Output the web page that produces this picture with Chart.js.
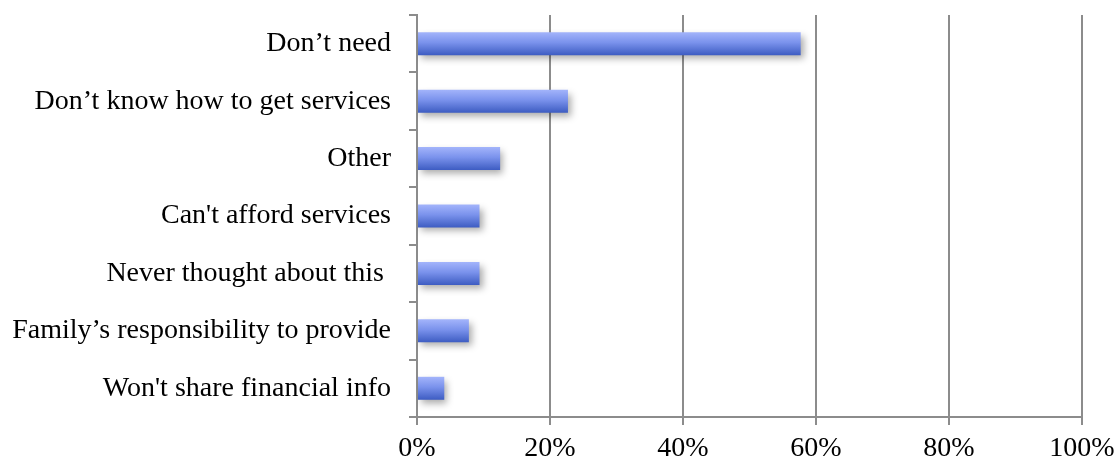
<!DOCTYPE html>
<html lang="en">
<head>
  <meta charset="UTF-8">
  <title>Reasons for not using services</title>
  <script src="https://cdn.jsdelivr.net/npm/chart.js"></script>
  <style>
    html, body { margin: 0; padding: 0; background: #ffffff; }
    #wrap { width: 1119px; height: 462px; }
  </style>
</head>
<body>
  <div id="wrap"><canvas id="reasonsChart"></canvas></div>

  <script>
    // Survey answers, top to bottom
    const categories = [
      "Don\u2019t need",
      "Don\u2019t know how to get services",
      "Other",
      "Can't afford services",
      "Never thought about this ",
      "Family\u2019s responsibility to provide",
      "Won't share financial info"
    ];
    // Share of respondents (%)
    const shares = [57.7, 22.7, 12.5, 9.4, 9.4, 7.8, 4.1];
    // Percent axis
    const axisMin = 0;
    const axisMax = 100;
    const axisStep = 20;

    const axisGray = '#8c8c8c';
    const labelFont = { family: "'Liberation Serif', 'Times New Roman', serif", size: 28 };
    const BAR_PCT = 0.4;

    // Vertical gradient for each bar, light on top and darker at the bottom
    function barGradient(context) {
      const chart = context.chart;
      const { ctx, chartArea, scales } = chart;
      if (!chartArea || !scales.y) return '#6f88e8';
      const yc = scales.y.getPixelForValue(context.dataIndex);
      const half = (chartArea.height / categories.length) * BAR_PCT / 2;
      const g = ctx.createLinearGradient(0, yc - half, 0, yc + half);
      g.addColorStop(0, '#a3b4fb');
      g.addColorStop(0.45, '#7a92ec');
      g.addColorStop(1, '#3d5cc2');
      return g;
    }

    // Soft drop shadow under the bars
    const barShadow = {
      id: 'barShadow',
      beforeDatasetsDraw(chart) {
        const ctx = chart.ctx;
        ctx.save();
        ctx.shadowColor = 'rgba(0, 0, 0, 0.33)';
        ctx.shadowBlur = 7;
        ctx.shadowOffsetX = 3;
        ctx.shadowOffsetY = 4;
      },
      afterDatasetsDraw(chart) {
        chart.ctx.restore();
      }
    };

    new Chart(document.getElementById('reasonsChart'), {
      type: 'bar',
      data: {
        labels: categories,
        datasets: [{
          data: shares,
          backgroundColor: barGradient,
          borderWidth: 0,
          barPercentage: BAR_PCT,
          categoryPercentage: 1
        }]
      },
      options: {
        indexAxis: 'y',
        responsive: true,
        maintainAspectRatio: false,
        animation: false,
        layout: { padding: { top: 15, right: 37, left: 0, bottom: 0 } },
        plugins: {
          legend: { display: false },
          tooltip: { enabled: false }
        },
        scales: {
          x: {
            min: axisMin,
            max: axisMax,
            grid: {
              color: axisGray,
              lineWidth: 2,
              tickLength: 8
            },
            border: { color: axisGray, width: 2 },
            ticks: {
              stepSize: axisStep,
              padding: 7,
              color: '#000000',
              font: labelFont,
              maxRotation: 0,
              callback: v => v + '%'
            },
            afterFit(scale) {
              scale.height = 45;
              scale.paddingLeft = 0;
              scale.paddingRight = 0;
            }
          },
          y: {
            grid: {
              offset: true,
              drawOnChartArea: false,
              color: axisGray,
              lineWidth: 2,
              tickLength: 8
            },
            border: { color: axisGray, width: 2 },
            ticks: {
              padding: 18,
              color: '#000000',
              font: labelFont
            },
            afterFit(scale) {
              scale.width = 417;
              scale.paddingTop = 0;
              scale.paddingBottom = 0;
            }
          }
        }
      },
      plugins: [barShadow]
    });
  </script>
</body>
</html>
